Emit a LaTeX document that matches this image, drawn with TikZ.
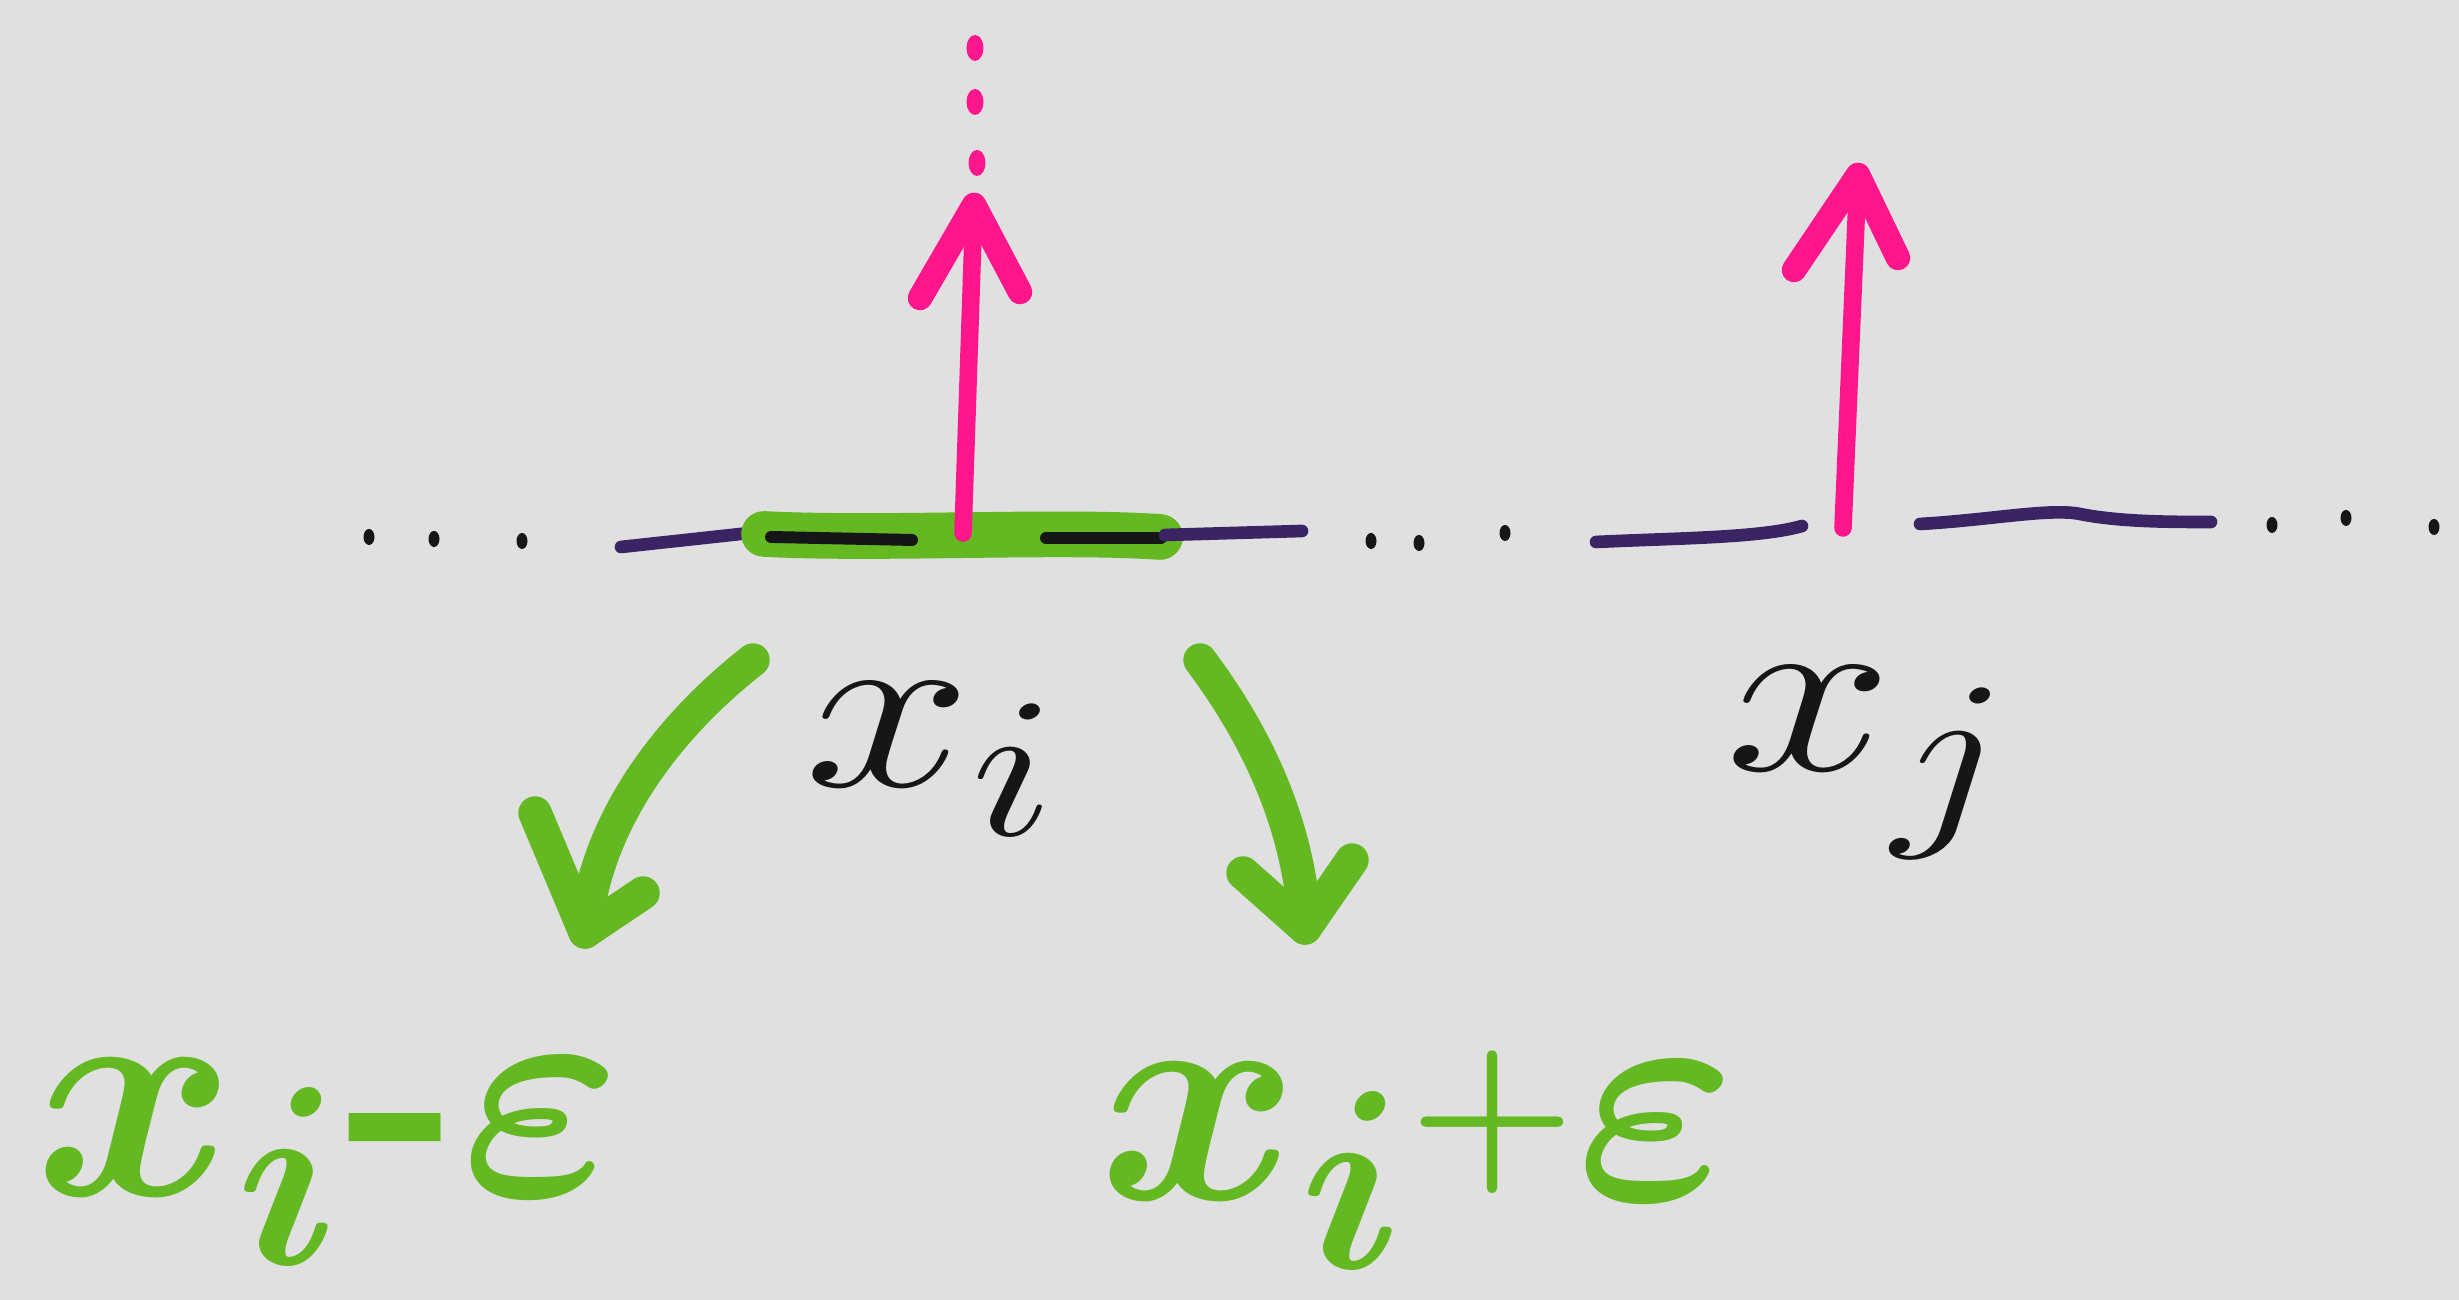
\documentclass[tikz,border=0pt]{standalone}
\definecolor{paper}{RGB}{224,224,224}
\definecolor{inkpink}{RGB}{255,22,140}
\definecolor{inkgreen}{RGB}{100,184,34}
\definecolor{inkaxis}{RGB}{58,36,100}
\definecolor{inkblack}{RGB}{22,22,22}
\begin{document}
\begin{tikzpicture}[
  pen/.style={line cap=round, line join=round},
  axisline/.style={pen, draw=inkaxis, line width=3.6pt},
  dashmark/.style={pen, draw=inkblack, line width=3.4pt},
  band/.style={pen, draw=inkgreen, line width=13pt},
  pinkshaft/.style={pen, draw=inkpink, line width=5pt},
  pinkbarb/.style={pen, draw=inkpink, line width=7pt},
  greenstroke/.style={pen, draw=inkgreen, line width=9.5pt},
  blacklabel/.style={inner sep=0pt, anchor=base west, text=inkblack,
    font=\Huge, scale=2.75, xscale=1.25},
  greenlabel/.style={inner sep=0pt, anchor=base west, text=inkgreen,
    font=\Huge\bfseries\boldmath, scale=3.5},
]
% paper
\fill[paper] (0,0) rectangle (24.59,13);
\useasboundingbox (0,0) rectangle (24.59,13);

% points on the axis
\coordinate (xi) at (9.63,7.67);
\coordinate (xj) at (18.43,7.72);

% axis: dots and short line pieces
\foreach \p in {(3.69,7.63),(4.34,7.61),(5.22,7.59),
                (13.71,7.59),(14.19,7.57),(15.05,7.67),
                (22.72,7.75),(23.46,7.82),(24.34,7.73)}
  \fill[inkblack] \p ellipse [x radius=0.055, y radius=0.08];
\draw[axisline] (6.21,7.53) -- (7.59,7.68);
\draw[band] (7.64,7.66) .. controls (8.8,7.60) and (10.6,7.70) .. (11.60,7.63);
\draw[dashmark] (7.71,7.63) -- (9.12,7.60);
\draw[dashmark] (10.46,7.62) -- (11.61,7.62);
\draw[axisline] (11.65,7.65) -- (13.02,7.69);
\draw[axisline] (15.96,7.58) .. controls (16.8,7.62) and (17.6,7.62) .. (18.02,7.74);
\draw[axisline] (19.20,7.76) .. controls (19.9,7.80) and (20.5,7.92) .. (20.8,7.86)
  .. controls (21.2,7.78) and (21.7,7.78) .. (22.11,7.78);

% pink arrow at x_i, continued by dots
\coordinate (ti) at (9.74,10.95);
\draw[pinkshaft] (xi) -- (ti);
\draw[pinkbarb] (9.20,10.02) -- (ti) -- (10.20,10.08);
\foreach \p in {(9.75,12.52),(9.75,11.98),(9.77,11.37)}
  \fill[inkpink] \p ellipse [x radius=0.085, y radius=0.13];

% pink arrow at x_j
\coordinate (tj) at (18.58,11.25);
\draw[pinkshaft] (xj) -- (tj);
\draw[pinkbarb] (17.94,10.30) -- (tj) -- (18.98,10.42);

% labels under the axis
\node[blacklabel] (lxi) at (8.02,5.13) {$x_i$};
\node[blacklabel] (lxj) at (17.23,5.29) {$x_j$};

% green results
\node[greenlabel] (lminus) at (0.32,1.04) {$x_i$-$\varepsilon$};
\node[greenlabel] (lplus) at (10.96,1.00)
  {$x_i$\raisebox{0.1em}{\scalebox{0.62}{$+$}}$\varepsilon$};

% green curved arrows
\coordinate (sl) at (7.53,6.40);
\coordinate (tl) at (5.85,3.68);
\draw[greenstroke] (sl) .. controls (6.7,5.75) and (5.95,4.8) .. (tl);
\draw[greenstroke] (5.35,4.87) -- (tl) -- (6.43,4.07);

\coordinate (sr) at (12.00,6.40);
\coordinate (tr) at (13.05,3.72);
\draw[greenstroke] (sr) .. controls (12.6,5.6) and (13.0,4.7) .. (tr);
\draw[greenstroke] (12.43,4.27) -- (tr) -- (13.52,4.40);
\end{tikzpicture}
\end{document}
